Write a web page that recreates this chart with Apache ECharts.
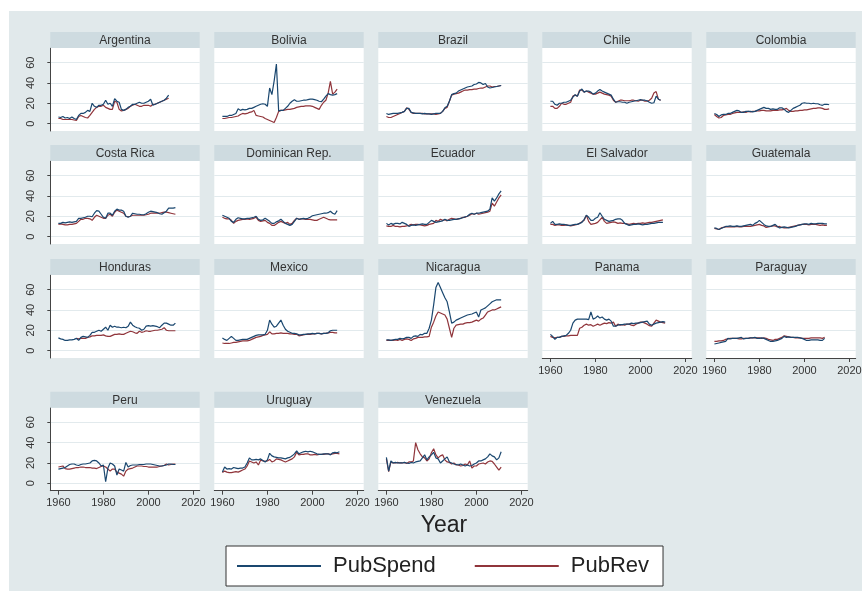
<!DOCTYPE html>
<html>
<head>
<meta charset="utf-8">
<script src="https://cdn.jsdelivr.net/npm/echarts@6/dist/echarts.min.js"></script>
<style>
  html, body { margin: 0; padding: 0; background: #ffffff; }
  #chart { width: 866px; height: 603px; }
</style>
</head>
<body>
<div id="chart"></div>
<script>
// Public spending and revenue (% of GDP), Latin America, yearly from 1960
const START_YEAR = 1960;
const xTicks = [1960, 1980, 2000, 2020];
const yTicks = [0, 20, 40, 60];
const seriesNames = ['PubSpend', 'PubRev'];
const countryNames = ['Argentina', 'Bolivia', 'Brazil', 'Chile', 'Colombia',
  'Costa Rica', 'Dominican Rep.', 'Ecuador', 'El Salvador', 'Guatemala',
  'Honduras', 'Mexico', 'Nicaragua', 'Panama', 'Paraguay',
  'Peru', 'Uruguay', 'Venezuela'];

const argentinaSpend = [6.5,6,7,5.5,6,5,6.5,5,4,8, 10,10,11,13,12,20,17,16,18,18, 19,23,19,20,17,24.5,22,21,14,13, 14,16,17,19,19,20,21,20,20,21, 22,24,18,19,20,21,22,23,25,28];
const argentinaRev = [5,5,4,4,4,4,4,3.5,3,7, 8,7,6,5.5,8,11,14,16,17,17, 18,16,15,14,14,22,21,14,12.5,13, 14,15,17,18,19,18,17,17,18,18, 18,17,19,19,20,21,22,23,24,25];

const boliviaSpend = [7,7,7,8,8,9,10,14.5,13,14, 13.5,14,15,15,16,17,18,19,19.5,19, 17,35,28.5,42,58.5,12.5,13,13,15,17, 20,22,23.5,22,22,22.5,23,23,23.5,24, 24,23.5,23,22,21.5,24,27,29.5,28.5,28, 28.5,29.5];
const boliviaRev = [5,5,5.5,6,6,6.5,7,7.5,9,10, 9.5,10,11,11.5,13,8,7.5,7,6.5,5, 4,3,2,1,6,12,13,13,13.5,14, 14,14.5,15,16,16.5,17,17,17.5,17.5,17.5, 17,16,15,14,18,21,23,30,41.5,29, 31,34];

const brazilSpend = [10,9,9.5,10,10,10,10.5,11,12,15, 15,11,10.5,10,10,10,9.5,10,9.5,9.5, 9,9.5,10,10,10,12,15.5,17,22,28.5, 29.5,30,32,33,34,35,36,36.5,37,38.5, 39,40.5,40,38.5,39.5,36,35,35.5,36,36.5, 37,37.5];
const brazilRev = [7,6,6,7,8,9,10,11,12,15.5, 14,11,10,10,10,10,10,9.5,9.5,9.5, 9.5,9.5,9,9.5,10,12,15,16,22,28, 29,29.5,30,31,32,33,33,33.5,33.5,34, 34,34.5,35,35,36,37,37,36,36.5,36.5, 37,37.5];

const chileSpend = [22,22,19,18,20,20,21,21,22,23, 26,28.5,27,32,34,31,32,32,31,29, 30,32,33.5,32,31,30,29,28,24,21, 21.5,21.5,21,21,20,21,21.5,22,22.5,23, 23.5,23,23,22.5,21,20,20.5,27,24,23];
const chileRev = [17,17,15,15,17,20,19,19,20,21, 27,28,27,33,33,31,32,31,30,29, 29,30,31,30,29,28.5,28,27,23,21, 22,23,23,22.5,22.5,22.5,23,23,22.5,22, 23,23,22,22,23,25,30,31.5,24,23];

const colombiaSpend = [10,9,7,8.5,9,9,10,10,11,12, 13,12.5,11,11,12,12,12,11.5,12,13, 14,15,16,15,15,14,14.5,14,14,15.5, 15.5,14,12,11,13,15,16,17,18,20, 20.5,20,20,19.5,20,19.5,19.5,18.5,18,19, 19,18.5];
const colombiaRev = [9,7,5.5,6,8,8.5,9,9,10,10.5, 11,11,11,11.5,11,12,11.5,12,12,12.5, 12.5,13,13,12.5,12.5,12.5,13,13,13,13.5, 13.5,14,15,13,12,12,12.5,12.5,13,13, 13.5,13.5,14,14.5,15,15,15.5,15.5,15,14, 14,14.5];

const costaRicaSpend = [13,13,14,13.5,14,14.5,14,14.5,15,18, 18,18.5,19,20,20,19.5,23,25.5,25,22, 19,18,23,23,21,25,27,26,26,25, 20,19,20,23,22.5,22,22,21.5,21.5,22.5, 24,25,24.5,24,23.5,22.5,22,23.5,25,28, 28,28,28.5];
const costaRicaRev = [12,12.5,12,11.5,11.5,12,12,12.5,13,15, 17,17,18,18,17.5,16,19,21,20,19, 18,18,21,22,20,24,26,25,24,23, 20,19.5,20,21,21,21,21,21,21,21.5, 22,23,23,23,23,23,23.5,24,24,23.5, 23,22.5,22];

const dominicanSpend = [21,20,19,18,15,14,17,18.5,18,17.5, 17.5,18,18,18.5,19,20,17,16,16.5,18, 16.5,15,13,13,14.5,15.5,17,15,13,12, 11,12,15,18,17,17.5,18,17.5,18,19, 20.5,21,21.5,22,22.5,23,23,23.5,25,23, 22,25.5];
const dominicanRev = [19,18,17.5,17.5,16,13,15,16,16.5,17, 17,17.5,17,17.5,18,19,16,15,15.5,16, 14,13,11,11,12.5,14,15,14,13,14, 12,13,16,18,17,17.5,17.5,17,17,17, 16.5,16,16,17,18,19,18,17,16.5,16.5, 16.5,16.5];

const ecuadorSpend = [13,11.5,13,12,13,13,12.5,14,13,12, 10,11,11.5,11,11.5,12,12.5,12,12,14, 16,15,14,14.5,15,15.5,17,16,16,16.5, 17,17,17.5,18,18.5,19.5,20,22,23,22, 23,23,23.5,24,24.5,25,27,38,35,38, 42,45];
const ecuadorRev = [10.5,10,10,11,10,10,9.5,10,10,10.5, 11,12,11.5,12,12,11.5,11,10.5,11,12, 12.5,13,16,15,17,16,16.5,15.5,17,18, 17.5,17,17.5,18,19,19,20,21,22.5,22, 23,22,22.5,23,23.5,24,25,33,30,34, 38,41];

const elSalvadorSpend = [13,15,12,12,12.5,12,12,11.5,11,11, 11.5,12,12,13,14,17,21,19,16,16, 18,19,23.5,20,17,16,15,15.5,16,17, 17.5,17.5,16,13,12,11,11.5,12,12,12.5, 12,11.5,12,12,12.5,13,13,13.5,14,14, 14];
const elSalvadorRev = [12,12,11,11.5,11.5,11,11,11.5,11,10.5, 11,11.5,12,13,14.5,16,21,15,12,12.5, 13,14,16.5,19,15,13,13.5,14,14.5,14, 13,13.5,13,13,12.5,12,12.5,13,12.5,13, 13,13.5,13,13.5,14,14,14.5,15,15.5,16, 16.5];

const guatemalaSpend = [8.5,8,7,8,9,10,10,10.5,10,10, 10.5,10,10,10.5,11,11.5,12,11,13,14, 16,14,12,10.5,10,10,11,12,10,8.5, 9,9.5,9,8.5,9,9.5,10,11,11.5,12, 12.5,12.5,12,13,12.5,12.5,13,13,13,12.5, 12.5];
const guatemalaRev = [8,7.5,7,8.5,9,9.5,9.5,9.5,9.5,9.5, 10,9.5,9.5,10,10,10,10,10.5,11,11.5, 12,11,10.5,9,9.5,10,10.5,10.5,9.5,10, 9,8.5,8.5,9,9.5,10,10.5,11,11.5,12, 12,12,11.5,12,12,12,11.5,11,11.5,11, 11];

const hondurasSpend = [12.5,11.5,11,10,10,10.5,10.5,11,12,10, 13,14,13.5,13,15,18,18,19,20,19, 21,23,20,25,23,24,23,23,22.5,23, 22.5,24,28,25,23.5,22.5,22,20,21,24, 24.5,24,24.5,24,23.5,22.5,25,27,27,26, 25,25,27];
const hondurasRev = [null,null,null,null,null,null,null,null,12,11.5, 12,12,12,13,13.5,14.5,14.5,15,15,15, 15.5,14.5,14,14,15,16,16,16.5,16,16, 17,18,19,18.5,17.5,17,19,18,18.5,19.5, 19,19,19.5,20,20,20.5,21,22.5,20,19.5, 19.5,19.5,19.5];

const mexicoSpend = [12.5,11,10,12,14,12,10,10,10.5,11, 11,11,12,13,14,15,15.5,15.5,15.5,16, 20,30,26,23,24,27,30,25,21,19, 18,17,17,16.5,15.5,15.5,16,16,16.5,16.5, 17,16.5,17,17,16.5,17,17,17.5,19.5,20, 20,20];
const mexicoRev = [7.5,7,7,7,7.5,8,8,8.5,9,9.5, 9.5,9.5,10,11,12,13,13.5,14,15,15.5, 16,18.5,16.5,16.5,17,17,17.5,17,17,17, 16.5,16.5,16,16,14.5,15,15.5,16,16,16, 16.5,16.5,17,17,16.5,17,17,17.5,18,18, 17.5,17.5];

const nicaraguaSpend = [10.5,10.5,10,10.5,11,11,12,11.5,12,13, 13,12,14,14.5,14,16,15.5,17,17,22, 30,45,62,67,62,57,52,48,38,27, 28,30,31,32,33,34,35,35.5,36,37, 38,33,40,41,42,44,46,48,49,50, 50,50];
const nicaraguaRev = [10,10,10,10,10.5,10,11,10,11,11.5, 11,10,11.5,12,13,13,13,13.5,13.5,14, 23,28,34,38,37,36,35,31,22,13, 22,25,25.5,26,26,27,27.5,27.5,28,29, 30,29,31,32,35,38,39,40,40,41, 42,43];

const panamaSpend = [16,14,11,13,13,14,14.5,15,17,20, 27,30,31,31,31,31,31,30.5,38,31, 32,34,32,33,31,30,31,29,24,24, 25,25.5,25.5,26,26,26,27,26.5,27,27, 27.5,28,28.5,29,26,25,26,27,27.5,28, 28.5,28];
const panamaRev = [14,13,12.5,13,13,14,14,14.5,14.5,15, 15,15,15,22,23,25,26,25,25.5,24, 25,26,25,26,27,26.5,27.5,27,28,24, 26,25,25.5,25,26,26,25,24.5,26,27, 28,28,27,26,24.5,24,27,30,29,28, 27.5,27];

const paraguaySpend = [6.5,7,7.5,8,8.5,9,12,11.5,12,12, 12,12.5,13,11.5,12,12,12.5,12.5,13,12, 12,12.5,12,11,10,9,9,9.5,10,11, 12,14,13,13.5,13,13,13,13,12.5,12, 11,10,10,10.5,10.5,10.5,10.5,10,10,12];
const paraguayRev = [9,9,9.5,9.5,10,11,11.5,12,12,12, 12,11.5,11.5,12,12,12,12.5,12.5,12.5,12.5, 12.5,12,12.5,12,11,10.5,10,11,11,12, 13,14.5,14,13.5,13,13,12.5,12.5,12.5,12, 12,12,12,12.5,12.5,12.5,12.5,12.5,12,13];

const peruSpend = [14,14.5,15,15.5,17,18.5,19,19,18,17.5, 18.5,19,19,19.5,20,22,22.5,22,20,17, 18,1.5,15,20,19,17,8,14,13,12, 20.5,16,17.5,18,18,18,18.5,18.5,18.5,19, 19,19,18.5,18,17.5,17,17,17.5,18,19, 19,18.5,18.5];
const peruRev = [16,16.5,17,14.5,14,14,14.5,15,15.5,15.5, 16,16,15.5,15.5,15.5,15,15,14.5,15.5,16.5, 17,16,14,12,14,14,11,10,9,7, 12,14,14.5,15,16,17,17,17,16.5,16.5, 16,16,16,16,16,16.5,17,17.5,19,18, 18.5,19,19];

const uruguaySpend = [11,16,14,14.5,14,15.5,15,14.5,15,15, 16,20,25,23,23,23.5,23,24,22.5,21, 23,29.5,27,26,25.5,25,25,24.5,24,25, 25.5,27,29,32,29,30,31,31.5,31,31.5, 31,30,29,28.5,28.5,29,29,29,28,30, 30.5,30,31];
const uruguayRev = [10.5,12,11,10.5,10.5,11,11.5,11,12,13, 14,17,22,21,20,21,18,23,22,21.5, 22,23.5,21,22,24,23.5,23,22,21,22, 23,24,26,30.5,28,28.5,28.5,29,29,28, 28,28.5,28,28.5,28.5,28.5,29,29,28.5,29, 29.5,29.5,29];

const venezuelaSpend = [25.5,12,22,20,20.5,20,20,20,20.5,20, 19.5,20.5,20,21,21.5,22,25,28,23,26, 28,30.5,25,24,20,22,24,26,21,20, 19,18.5,18,19,18,17,18,17,17.5,19, 20,22,22,23,24,26,29,27,26,23, 25,31];
const venezuelaRev = [24,11.5,21,20,20,20.5,20,20,20.5,19.5, 21,21,22,40,33,29,26,25,22,24, 30,34,28,25,27,28,23,21,20.5,19, 20,18,18,17,17.5,19,18,22,15,17, 17,19,19.5,20,19,21,22,21.5,19,16, 13,16];

const spendSeries = [argentinaSpend, boliviaSpend, brazilSpend, chileSpend, colombiaSpend,
  costaRicaSpend, dominicanSpend, ecuadorSpend, elSalvadorSpend, guatemalaSpend,
  hondurasSpend, mexicoSpend, nicaraguaSpend, panamaSpend, paraguaySpend,
  peruSpend, uruguaySpend, venezuelaSpend];
const revSeries = [argentinaRev, boliviaRev, brazilRev, chileRev, colombiaRev,
  costaRicaRev, dominicanRev, ecuadorRev, elSalvadorRev, guatemalaRev,
  hondurasRev, mexicoRev, nicaraguaRev, panamaRev, paraguayRev,
  peruRev, uruguayRev, venezuelaRev];

// ---- layout ----
const COLS = 5;
const colLeft = 50.3, colStep = 164, panelW = 149.4;
const rowHeaderTop = [32, 145, 259, 391.7];
const headerH = 16, plotH = 83;
const X_MIN = 1956.4, X_MAX = 2022.8;
const Y_MIN = -7.3, Y_MAX = 74.4;
const BLUE = '#1a476f', RED = '#90353b';
const FONT = 'Liberation Sans, Arial, sans-serif';
const textColor = '#333333';

function toPoints(arr) {
  const pts = [];
  arr.forEach((v, i) => { if (v != null) pts.push([START_YEAR + i, v]); });
  return pts;
}

// panels that carry x-axis labels (bottom of each column)
const n = countryNames.length;
function hasXAxis(k) { return k + COLS >= n; }

const grids = [], xAxes = [], yAxes = [], series = [], graphics = [];

// outer background
graphics.push({ type: 'rect', shape: { x: 9, y: 11, width: 853, height: 580 },
  style: { fill: '#e1e9eb' }, z: -10 });

countryNames.forEach((name, k) => {
  const r = Math.floor(k / COLS), c = k % COLS;
  const left = colLeft + c * colStep;
  const hTop = rowHeaderTop[r];
  grids.push({ left: left, top: hTop + headerH, width: panelW, height: plotH,
    show: true, backgroundColor: '#ffffff', borderWidth: 0 });
  graphics.push({ type: 'rect', shape: { x: left, y: hTop, width: panelW, height: headerH },
    style: { fill: '#cedbe0' }, z: 1 });
  graphics.push({ type: 'text', x: left + panelW / 2, y: hTop + headerH / 2 + 0.5,
    style: { text: name, fill: textColor, font: '12px ' + FONT, align: 'center', verticalAlign: 'middle' }, z: 2 });

  const showX = hasXAxis(k);
  xAxes.push({ gridIndex: k, type: 'value', min: X_MIN, max: X_MAX,
    axisLine: { show: showX, onZero: false, lineStyle: { color: '#444', width: 1 } },
    axisTick: { show: showX, length: 4, customValues: xTicks, lineStyle: { color: '#444' } },
    axisLabel: { show: showX, customValues: xTicks, margin: 7, color: textColor, fontSize: 11,
      fontFamily: FONT, formatter: v => String(v) },
    splitLine: { show: false } });
  const showY = c === 0;
  yAxes.push({ gridIndex: k, type: 'value', min: Y_MIN, max: Y_MAX,
    axisLine: { show: showY, lineStyle: { color: '#444', width: 1 } },
    axisTick: { show: showY, length: 3, customValues: yTicks, lineStyle: { color: '#444' } },
    axisLabel: { show: showY, customValues: yTicks, rotate: 90, margin: 14, color: textColor, fontSize: 11,
      fontFamily: FONT, formatter: v => String(v) },
    splitLine: { show: true, lineStyle: { color: '#e2eaed', width: 1.2 } } });

  series.push({ name: seriesNames[0], type: 'line', xAxisIndex: k, yAxisIndex: k,
    data: toPoints(spendSeries[k]), showSymbol: false, silent: true, z: 3,
    lineStyle: { color: BLUE, width: 1.2 }, itemStyle: { color: BLUE } });
  series.push({ name: seriesNames[1], type: 'line', xAxisIndex: k, yAxisIndex: k,
    data: toPoints(revSeries[k]), showSymbol: false, silent: true, z: 2,
    lineStyle: { color: RED, width: 1.2 }, itemStyle: { color: RED } });
});

// x title
graphics.push({ type: 'text', x: 444, y: 526,
  style: { text: 'Year', fill: '#222', font: '23px ' + FONT, align: 'center', verticalAlign: 'middle' }, z: 5 });

const option = {
  animation: false,
  backgroundColor: '#ffffff',
  grid: grids,
  xAxis: xAxes,
  yAxis: yAxes,
  series: series,
  graphic: graphics,
  legend: {
    data: seriesNames,
    left: 226, top: 546,
    padding: [9, 14, 9, 11],
    itemGap: 39,
    itemWidth: 84, itemHeight: 2,
    icon: 'rect',
    backgroundColor: '#ffffff',
    borderColor: '#333',
    borderWidth: 1,
    borderRadius: 0,
    selectedMode: false,
    textStyle: { fontSize: 22, color: '#222', fontFamily: FONT, padding: [0, 0, 0, 7] }
  }
};

const chart = echarts.init(document.getElementById('chart'), null, { renderer: 'canvas' });
chart.setOption(option);
</script>
</body>
</html>
